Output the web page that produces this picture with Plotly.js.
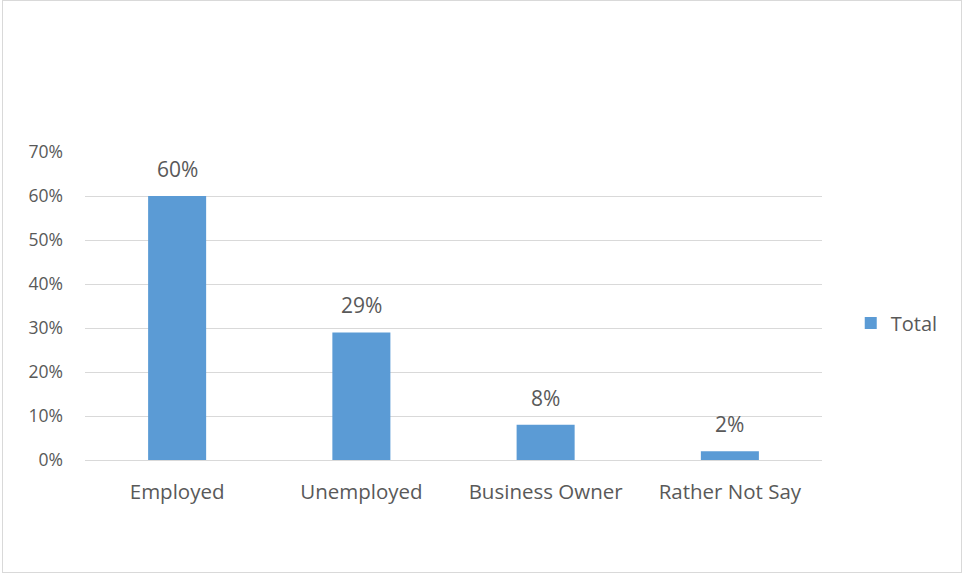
<!DOCTYPE html>
<html>
<head>
<meta charset="utf-8">
<script src="https://cdn.plot.ly/plotly-3.0.1.min.js"></script>
<style>
  html, body { margin: 0; padding: 0; background: #fff; }
  #chart { width: 964px; height: 575px; }
  #frame { position: absolute; left: 2px; top: 0px; width: 958px; height: 571px; border: 1px solid #d9d9d9; pointer-events: none; }
</style>
</head>
<body>
<div id="chart"></div>
<div id="frame"></div>
<script>
const categories = ["Employed", "Unemployed", "Business Owner", "Rather Not Say"];
const totals = [0.60, 0.29, 0.08, 0.02];
const valueLabels = ["60%", "29%", "8%", "2%"];
const yTickVals = [0, 0.1, 0.2, 0.3, 0.4, 0.5, 0.6, 0.7];
const yTickText = ["0%", "10%", "20%", "30%", "40%", "50%", "60%", "70%"];
const seriesName = "Total";

const fontFamily = "Open Sans, Liberation Sans, sans-serif";
const textColor = "#595959";

const trace = {
  type: "bar",
  x: categories,
  y: totals,
  name: seriesName,
  marker: { color: "#5B9BD5" },
  showlegend: true,
  hoverinfo: "skip"
};

const annotations = categories.map((c, i) => ({
  x: c, y: totals[i], xref: "x", yref: "y",
  text: valueLabels[i], showarrow: false,
  yanchor: "middle", yshift: 27,
  font: { family: fontFamily, size: 21, color: textColor }
}));

const layout = {
  width: 964, height: 575,
  margin: { l: 85, r: 142, t: 152, b: 115 },
  paper_bgcolor: "#fff", plot_bgcolor: "#fff",
  bargap: 0.685,
  font: { family: fontFamily, size: 16, color: textColor },
  xaxis: {
    type: "category",
    showgrid: false, zeroline: false,
    showline: true, linecolor: "#d9d9d9", linewidth: 1,
    ticks: "", ticklabelstandoff: 13,
    tickfont: { family: fontFamily, size: 20.5, color: textColor }
  },
  yaxis: {
    range: [0, 0.7],
    tickvals: yTickVals, ticktext: yTickText,
    showgrid: true, gridcolor: "#d9d9d9", gridwidth: 1,
    zeroline: false, showline: false, ticks: "",
    ticklabelstandoff: 21,
    tickfont: { family: fontFamily, size: 17.5, color: textColor }
  },
  legend: {
    x: 1.039, xanchor: "left", y: 0.445, yanchor: "middle",
    font: { family: fontFamily, size: 20, color: textColor },
    itemwidth: 30
  },
  annotations: annotations
};

Plotly.newPlot("chart", [trace], layout, { displayModeBar: false, staticPlot: true });
</script>
</body>
</html>
